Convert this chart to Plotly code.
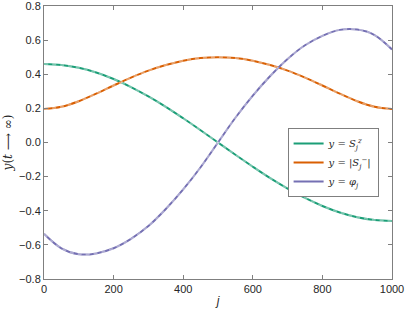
import plotly.graph_objects as go

# site index j
j = [0, 50, 100, 150, 200, 250, 300, 350, 400, 450, 500,
     550, 600, 650, 700, 750, 800, 850, 900, 950, 1000]

# y = S_j^z
sz = [0.46, 0.454, 0.4375, 0.41, 0.372, 0.325, 0.27, 0.209, 0.142, 0.072, 0.0,
      -0.072, -0.142, -0.209, -0.27, -0.325, -0.372, -0.41, -0.4375, -0.454, -0.46]

# y = |S_j^-|
sm = [0.196, 0.2095, 0.242, 0.286, 0.334, 0.38, 0.421, 0.454, 0.479, 0.495, 0.5,
      0.495, 0.479, 0.454, 0.421, 0.38, 0.334, 0.286, 0.242, 0.2095, 0.196]

# y = phi_j
phi = [-0.535, -0.62, -0.655, -0.65, -0.62, -0.565, -0.49, -0.39, -0.275, -0.145, 0.0,
       0.145, 0.275, 0.39, 0.49, 0.57, 0.625, 0.66, 0.662, 0.63, 0.545]

names = ['<i>y</i> = <i>S</i><sub><i>j</i></sub><sup><i>z</i></sup>',
         '<i>y</i> = |<i>S</i><sub><i>j</i></sub><sup>\u2212</sup>|',
         '<i>y</i> = <i>\u03c6</i><sub><i>j</i></sub>']
colors = ['#1b9e77', '#d95f02', '#7570b3']

fig = go.Figure()
for ys, nm, c in zip([sz, sm, phi], names, colors):
    fig.add_trace(go.Scatter(x=j, y=ys, mode='lines', name=nm,
                             line=dict(color=c, width=2, shape='spline')))
for ys in [sz, sm, phi]:
    # lighter dashed overlay (numerical result on top of exact one)
    fig.add_trace(go.Scatter(x=j, y=ys, mode='lines', showlegend=False, hoverinfo='skip',
                             line=dict(color='rgba(255,255,255,0.4)', width=2,
                                       dash='4px,4px', shape='spline')))

ax = dict(showline=True, linecolor='#7f7f7f', linewidth=1, mirror='ticks',
          ticks='inside', ticklen=4, tickcolor='#7f7f7f', showgrid=False,
          zeroline=False, automargin=False, ticklabeloverflow='allow',
          tickfont=dict(size=11, color='#262626'))

fig.update_layout(
    width=407, height=315,
    margin=dict(l=44, r=15, t=6, b=36),
    paper_bgcolor='white', plot_bgcolor='white',
    font=dict(family='Liberation Sans, Arial, sans-serif', color='#262626'),
    xaxis=dict(ax, range=[0, 1000], tickvals=[0, 200, 400, 600, 800, 1000],
               title=dict(text='<i>j</i>', font=dict(size=12), standoff=2)),
    yaxis=dict(ax, range=[-0.8, 0.8], dtick=0.2, tickformat='.1f',
               title=dict(text='<i>y</i>(<i>t</i> \u27f6 \u221e)', font=dict(size=12,
                          family='DejaVu Serif, serif'), standoff=3)),
    legend=dict(x=0.70, y=0.553, xanchor='left', yanchor='top',
                bordercolor='#7f7f7f', borderwidth=1, bgcolor='white',
                font=dict(size=10, family='DejaVu Serif, serif'),
                itemwidth=30, tracegroupgap=0),
)

fig.write_html('out.html', config={'displayModeBar': False},
               post_script="document.body.style.margin='0';")
